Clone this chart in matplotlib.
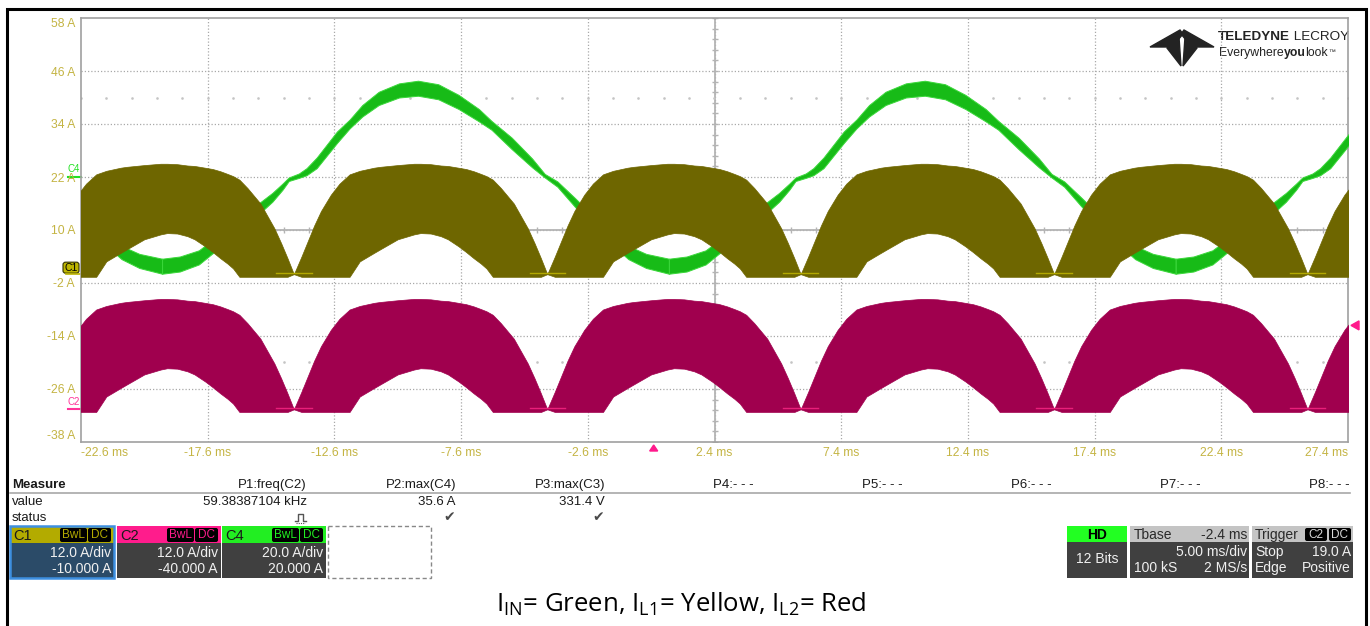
import numpy as np
import matplotlib.pyplot as plt
from matplotlib.patches import Rectangle, FancyBboxPatch, Polygon

plt.rcParams['font.family'] = ['Liberation Sans', 'DejaVu Sans']
plt.rcParams['mathtext.default'] = 'regular'

# Screen: 10 x 5 ms horizontally, 8 x 12 A vertically (C1 grid)
TIME_TICKS = [-22.6, -17.6, -12.6, -7.6, -2.6, 2.4, 7.4, 12.4, 17.4, 22.4, 27.4]
AMP_TICKS = [-38, -26, -14, -2, 10, 22, 34, 46, 58]

# Inductor current half-cycle (10 ms), A above the channel ground
HUMP_DT = [0, 0.3, 0.55, 0.8, 1.07, 1.46, 1.8, 2.2, 2.6, 3.16, 3.4, 4.1, 4.74, 5.0, 5.4,
           5.8, 6.08, 6.5, 6.8, 7.1, 7.38, 7.6, 7.85, 8.17, 8.68, 9.23, 9.5, 9.75, 10]
HUMP_TOP = [0, 4.0, 7.5, 11.0, 14.3, 18.0, 20.5, 22.6, 23.4, 24.1, 24.3, 24.7, 25.0, 25.0, 24.9,
            24.6, 24.5, 24.1, 23.8, 23.3, 22.7, 22.2, 21.4, 19.5, 16.0, 10.4, 7.0, 3.6, 0]
HUMP_LOW = [0, -0.6, -0.6, -0.6, -0.6, -0.6, -0.6, -0.6, 2.9, 4.8, 5.6, 7.9, 9.0, 9.3, 9.2,
            8.6, 7.9, 6.3, 5.0, 3.6, 2.4, 1.3, -0.6, -0.6, -0.6, -0.6, -0.6, -0.6, 0]
HUMP_STARTS = [-24.2, -14.2, -4.2, 5.8, 15.8, 25.8]
C1_GROUND = 0.0     # I_L1, yellow
C2_GROUND = -30.6   # I_L2, red

# Input current, one 20 ms line cycle starting at a trough
GREEN_DT = [0, 0.7, 1.45, 2.05, 2.65, 3.25, 3.85, 4.35, 4.75, 5.0, 5.4, 5.7, 6.1, 6.9, 7.4, 7.9,
            8.55, 9.35, 10.1, 10.9, 11.7, 12.5, 13.0, 13.8, 14.6, 15.1, 15.6, 16.3, 17.2, 18.4,
            19.1, 20.0]
GREEN_MID = [1.8, 2.3, 3.8, 6.5, 9.5, 12.5, 15.0, 17.4, 19.8, 21.5, 22.3, 23.2, 25.2, 31.0, 34.0,
             37.0, 39.8, 41.6, 42.1, 41.3, 39.0, 36.0, 33.7, 29.6, 25.2, 22.3, 20.4, 16.2, 10.8,
             4.9, 3.0, 1.8]
GREEN_HALF = [1.7, 1.7, 1.6, 1.5, 1.4, 1.3, 1.2, 1.0, 0.7, 0.4, 0.5, 0.8, 1.2, 1.3, 1.0, 1.3,
              1.5, 1.6, 1.7, 1.7, 1.6, 1.4, 1.0, 1.3, 1.0, 0.4, 0.6, 1.0, 1.3, 1.5, 1.6, 1.7]
GREEN_STARTS = [-39.4, -19.4, 0.6, 20.6]

C4_MARK = 22.0
TRIG_TIME = 0.0
TRIG_LEVEL = C2_GROUND + 19.0

MEAS_HEADERS = ['P1:freq(C2)', 'P2:max(C4)', 'P3:max(C3)', 'P4:- - -', 'P5:- - -',
                'P6:- - -', 'P7:- - -', 'P8:- - -']
MEAS_VALUES = ['59.38387104 kHz', '35.6 A', '331.4 V']
MEAS_STATUS = ['pulse', '\u2714', '\u2714']

CHANNELS = ['C1', 'C2', 'C4']
CH_SCALE = ['12.0 A/div', '12.0 A/div', '20.0 A/div']
CH_OFFSET = ['-10.000 A', '-40.000 A', '20.000 A']

YELLOW = '#6e6600'
RED = '#a0004e'
GREEN = '#17bb17'
GREEN_EDGE = '#3bd83b'
LABEL = '#c4b443'
GRID = '#a9a9a9'

W, H = 1370, 626
fig = plt.figure(figsize=(W / 100, H / 100), dpi=100)
bg = fig.add_axes([0, 0, 1, 1])
bg.set_xlim(0, W)
bg.set_ylim(H, 0)
bg.axis('off')

L, R, T, B = 81, 1348, 18, 442
ax = fig.add_axes([L / W, 1 - B / H, (R - L) / W, (B - T) / H])
ax.patch.set_visible(False)
ax.set_xlim(TIME_TICKS[0], TIME_TICKS[-1])
ax.set_ylim(AMP_TICKS[0], AMP_TICKS[-1])
for s in ax.spines.values():
    s.set_color('#a0a0a0')
    s.set_linewidth(1.2)

# graticule
for t in TIME_TICKS[1:-1]:
    ax.axvline(t, color=GRID, lw=0.9, ls=(0, (1, 1.6)), zorder=1)
for v in AMP_TICKS[1:-1]:
    ax.axhline(v, color=GRID, lw=0.9, ls=(0, (1, 1.6)), zorder=1)
t_mid = TIME_TICKS[5]
v_mid = AMP_TICKS[4]
ax.axvline(t_mid, color='#b4b4b4', lw=1.3, zorder=1)
ax.axhline(v_mid, color='#b4b4b4', lw=1.3, zorder=1)
minor_t = np.arange(TIME_TICKS[0], TIME_TICKS[-1] + 0.01, 1.0)
minor_v = np.arange(AMP_TICKS[0], AMP_TICKS[-1] + 0.01, 2.4)
ax.plot(minor_t, np.full_like(minor_t, v_mid), ls='none', marker='|', ms=4, color='#b4b4b4', zorder=1)
ax.plot(np.full_like(minor_v, t_mid), minor_v, ls='none', marker='_', ms=4, color='#b4b4b4', zorder=1)
for v in (v_mid + 30, v_mid - 30):
    ax.plot(minor_t, np.full_like(minor_t, v), ls='none', marker='s', ms=0.8, color='#c4c4c4', zorder=1)

# input current (green) under the inductor currents
gdt = np.array(GREEN_DT)
gmid = np.array(GREEN_MID)
ghalf = np.array(GREEN_HALF)
for t0 in GREEN_STARTS:
    ax.fill_between(t0 + gdt, gmid - ghalf, gmid + ghalf, facecolor=GREEN,
                    edgecolor=GREEN_EDGE, lw=0.7, zorder=3)

# inductor currents
hdt = np.array(HUMP_DT)
htop = np.array(HUMP_TOP)
hlow = np.array(HUMP_LOW)
for t0 in HUMP_STARTS:
    ax.fill_between(t0 + hdt, C1_GROUND + hlow, C1_GROUND + htop, facecolor=YELLOW,
                    edgecolor=YELLOW, lw=0.5, zorder=4)
    ax.fill_between(t0 + hdt, C2_GROUND + hlow, C2_GROUND + htop, facecolor=RED,
                    edgecolor=RED, lw=0.5, zorder=4)
    ax.plot([t0 - 0.7, t0 + 0.7], [C1_GROUND + 0.3] * 2, color='#b3a900', lw=1.0, zorder=5)
    ax.plot([t0 - 0.7, t0 + 0.7], [C2_GROUND + 0.2] * 2, color='#e8207a', lw=1.0, zorder=5)

ax.set_xticks(TIME_TICKS, labels=[f'{t:g} ms' for t in TIME_TICKS])
ax.set_yticks(AMP_TICKS, labels=[f'{v:g} A' for v in AMP_TICKS])
ax.tick_params(length=0, labelcolor=LABEL, labelsize=8.7)
ax.tick_params(axis='x', pad=3.6)
ax.tick_params(axis='y', pad=4.3)
xl = ax.get_xticklabels()
xl[0].set_ha('left')
xl[-1].set_ha('right')
yl = ax.get_yticklabels()
yl[0].set_va('bottom')
yl[-1].set_va('top')


def px_y(v):
    return T + (AMP_TICKS[-1] - v) / (AMP_TICKS[-1] - AMP_TICKS[0]) * (B - T)


def px_x(t):
    return L + (t - TIME_TICKS[0]) / (TIME_TICKS[-1] - TIME_TICKS[0]) * (R - L)


# channel ground markers
y1 = px_y(C1_GROUND)
bg.add_patch(FancyBboxPatch((63, y1 - 12), 16, 11, boxstyle='round,pad=0,rounding_size=2.5',
                            fc='#bdb500', ec='#333300', lw=0.8))
bg.text(71, y1 - 6.5, 'C1', fontsize=7.5, ha='center', va='center', color='black')
bg.plot([66, 80], [y1, y1], color='#bdb500', lw=1.2)
y4 = px_y(C4_MARK)
bg.text(74, y4 - 8, 'C4', fontsize=7, ha='center', va='center', color='#22e022')
bg.plot([68, 81], [y4, y4], color='#22e022', lw=1.5)
y2 = px_y(C2_GROUND)
bg.text(74, y2 - 7, 'C2', fontsize=7, ha='center', va='center', color='#ff3399')
bg.plot([68, 81], [y2, y2], color='#ff3399', lw=1.5)
bg.add_patch(Polygon([[px_x(TRIG_TIME) - 4, B + 9], [px_x(TRIG_TIME) + 4, B + 9],
                      [px_x(TRIG_TIME), B + 3]], color='#ff1a8c'))
yt = px_y(TRIG_LEVEL)
bg.add_patch(Polygon([[R + 3, yt], [R + 11, yt - 4.5], [R + 11, yt + 4.5]], color='#ff1a8c'))

# outer frame
bg.plot([7, 7, 1366, 1366], [H, 8.5, 8.5, H], color='black', lw=2.2, solid_joinstyle='miter')

# logo
for poly in ([[1150, 47], [1180, 30], [1183, 34], [1172, 47]],
             [[1214, 47], [1184, 30], [1181, 34], [1192, 47]],
             [[1167, 48], [1179, 37], [1181, 66]], [[1197, 48], [1185, 37], [1183, 66]]):
    bg.add_patch(Polygon(poly, color='#232323'))
renderer = fig.canvas.get_renderer()


def run_text(x, y, parts):
    for txt, kw in parts:
        t = bg.text(x, y, txt, va='center', ha='left', color='#232323', **kw)
        bb = t.get_window_extent(renderer)
        x = bg.transData.inverted().transform((bb.x1, bb.y0))[0]


run_text(1218, 37, [('TELEDYNE', dict(fontsize=9.7, fontweight='bold')),
                    (' LECROY', dict(fontsize=9.7))])
run_text(1219, 53, [('Everywhere', dict(fontsize=8.8)),
                    ('you', dict(fontsize=8.8, fontweight='bold')),
                    ('look', dict(fontsize=8.8)), ('\u2122', dict(fontsize=5))])

# measurement table
TXT = '#1a1a1a'
bg.text(12, 485, 'Measure', fontsize=9.5, fontweight='bold', va='center', color=TXT)
bg.plot([10, 1350], [492.5, 492.5], color='#a8a8a8', lw=1.2)
bg.text(12, 502, 'value', fontsize=9.5, va='center', color=TXT)
bg.text(12, 518, 'status', fontsize=9.5, va='center', color=TXT)
for i, h in enumerate(MEAS_HEADERS):
    xr = 307 + i * 149
    bg.text(xr, 485, h, fontsize=9.5, ha='right', va='center', color=TXT)
    if i < len(MEAS_VALUES):
        bg.text(xr, 502, MEAS_VALUES[i], fontsize=9.5, ha='right', va='center', color=TXT)
        if MEAS_STATUS[i] == 'pulse':
            # small pulse icon (no installed font has this sign)
            bg.plot([295, 298, 298, 303, 303, 306], [521, 521, 514, 514, 521, 521],
                    color='#555555', lw=1.0)
            bg.plot([296, 305], [522.5, 522.5], color='#555555', lw=0.8, ls=(0, (1, 1)))
        else:
            bg.text(xr - 1, 517, MEAS_STATUS[i], fontsize=10, ha='right', va='center',
                    color='#4a4a4a', family=['DejaVu Sans'])

# channel boxes
HEAD = ['#b3ab00', '#ff1c8c', '#22ee22']
BODY = ['#2b4b68', '#404040', '#404040']
BOX_X = [10, 117, 222]
for i, ch in enumerate(CHANNELS):
    x0 = BOX_X[i]
    x1 = x0 + 104
    bg.add_patch(Rectangle((x0, 526), x1 - x0, 17, fc=HEAD[i], ec='none'))
    bg.add_patch(Rectangle((x0, 543), x1 - x0, 35, fc=BODY[i], ec='none'))
    bg.text(x0 + 3, 535.5, ch, fontsize=10.5, va='center', color='#1a1a1a')
    for bx, bw, lab in ((x0 + 50, 27, 'BwL'), (x0 + 78, 23, 'DC')):
        bg.add_patch(FancyBboxPatch((bx, 528), bw, 14, boxstyle='round,pad=0,rounding_size=2',
                                    fc='black', ec='none'))
        bg.text(bx + bw / 2, 535.5, lab, fontsize=8.5, ha='center', va='center', color=HEAD[i])
    bg.text(x1 - 3, 553, CH_SCALE[i], fontsize=10, ha='right', va='center', color='#f0f0f0')
    bg.text(x1 - 3, 569, CH_OFFSET[i], fontsize=10, ha='right', va='center', color='#f0f0f0')
bg.add_patch(Rectangle((10, 526), 104, 52, fc='none', ec='#3d8fe0', lw=1.8))
bg.add_patch(Rectangle((328, 526), 103, 52, fc='none', ec='#888888', lw=1.0, ls=(0, (3, 2))))

# acquisition boxes
bg.add_patch(Rectangle((1067, 526), 60, 16, fc='#22ff22', ec='none'))
bg.add_patch(Rectangle((1067, 542), 60, 36, fc='#404040', ec='none'))
bg.text(1097, 535, 'HD', fontsize=10, fontweight='bold', ha='center', va='center', color='black')
bg.text(1097, 559, '12 Bits', fontsize=10, ha='center', va='center', color='#f0f0f0')
for x0, x1 in ((1130, 1249), (1252, 1353)):
    bg.add_patch(Rectangle((x0, 526), x1 - x0, 16, fc='#c4c4c4', ec='none'))
    bg.add_patch(Rectangle((x0, 542), x1 - x0, 36, fc='#404040', ec='none'))
bg.text(1134, 535, 'Tbase', fontsize=10, va='center', color='#2a2a2a')
bg.text(1247, 535, '-2.4 ms', fontsize=10, ha='right', va='center', color='#2a2a2a')
bg.text(1247, 552, '5.00 ms/div', fontsize=10, ha='right', va='center', color='#f0f0f0')
bg.text(1134, 568, '100 kS', fontsize=10, va='center', color='#f0f0f0')
bg.text(1247, 568, '2 MS/s', fontsize=10, ha='right', va='center', color='#f0f0f0')
bg.text(1255, 535, 'Trigger', fontsize=10, va='center', color='#2a2a2a')
for bx, lab in ((1305, 'C2'), (1329, 'DC')):
    bg.add_patch(FancyBboxPatch((bx, 528), 22, 13, boxstyle='round,pad=0,rounding_size=2',
                                fc='black', ec='none'))
    bg.text(bx + 11, 534.5, lab, fontsize=8.5, ha='center', va='center', color='#d8d8d8')
bg.text(1255, 552, 'Stop', fontsize=10, va='center', color='#f0f0f0')
bg.text(1351, 552, '19.0 A', fontsize=10, ha='right', va='center', color='#f0f0f0')
bg.text(1255, 568, 'Edge', fontsize=10, va='center', color='#f0f0f0')
bg.text(1351, 568, 'Positive', fontsize=10, ha='right', va='center', color='#f0f0f0')

# caption
bg.text(681, 604, r'I$_{IN}$= Green, I$_{L1}$= Yellow, I$_{L2}$= Red', fontsize=18.5,
        ha='center', va='center', color='black', family=['Open Sans', 'DejaVu Sans'])

fig.savefig('out.png', dpi=100)
